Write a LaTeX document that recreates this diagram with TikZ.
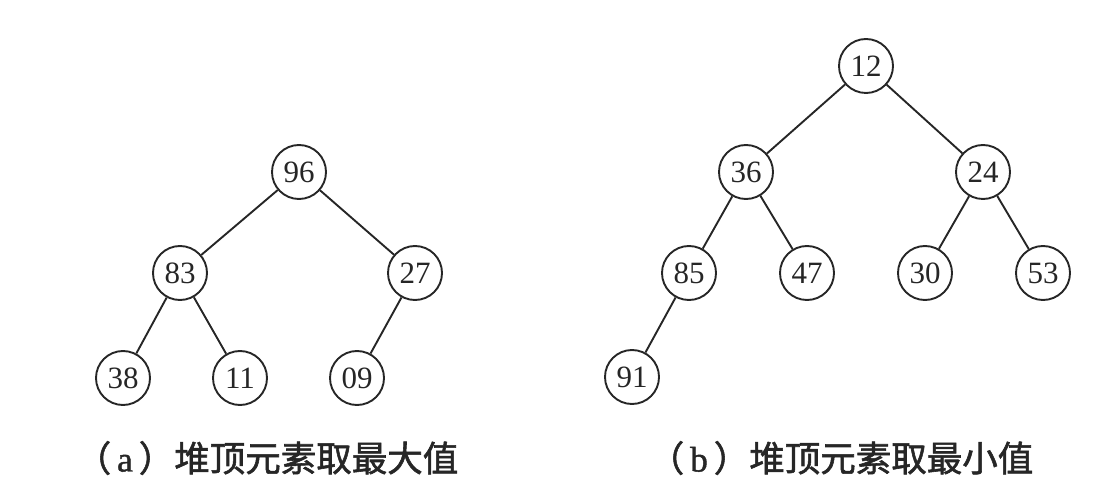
\documentclass[tikz,border=0pt]{standalone}
\usepackage{fontspec}
\setmainfont{Liberation Serif}
\newfontfamily\cjk[FakeBold=1.6]{Noto Sans CJK SC}
\newfontfamily\latinlabel[FakeBold=1.2]{Liberation Serif}
\begin{document}
\begin{tikzpicture}[x=1pt,y=-1pt,
  ink/.style={draw=black!85, line width=1.9pt},
  hnode/.style={circle, ink, minimum size=54pt, inner sep=0pt,
    font=\fontsize{31}{34}\selectfont, text=black!85},
  hedge/.style={ink},
  caption/.style={font=\cjk\fontsize{35.5}{40}\selectfont, text=black!85, anchor=center}]
\useasboundingbox (0,0) rectangle (1118,502);

% (a) max-heap
\node[hnode] (a96) at (299,172) {96};
\node[hnode] (a83) at (180,273) {83};
\node[hnode] (a27) at (415,273) {27};
\node[hnode] (a38) at (123,378) {38};
\node[hnode] (a11) at (240,378) {11};
\node[hnode] (a09) at (357,378) {09};
\draw[hedge] (a96) -- (a83);
\draw[hedge] (a96) -- (a27);
\draw[hedge] (a83) -- (a38);
\draw[hedge] (a83) -- (a11);
\draw[hedge] (a27) -- (a09);

% (b) min-heap
\node[hnode] (b12) at (866,66) {12};
\node[hnode] (b36) at (746,172) {36};
\node[hnode] (b24) at (983,172) {24};
\node[hnode] (b85) at (689,273) {85};
\node[hnode] (b47) at (807,273) {47};
\node[hnode] (b30) at (925,273) {30};
\node[hnode] (b53) at (1043,273) {53};
\node[hnode] (b91) at (632,377) {91};
\draw[hedge] (b12) -- (b36);
\draw[hedge] (b12) -- (b24);
\draw[hedge] (b36) -- (b85);
\draw[hedge] (b36) -- (b47);
\draw[hedge] (b24) -- (b30);
\draw[hedge] (b24) -- (b53);
\draw[hedge] (b85) -- (b91);

% captions
\node[caption] (capa) at (267,458) {（{\latinlabel\,a\,}）堆顶元素取最大值};
\node[caption] (capb) at (841,458) {（{\latinlabel\,b\,}）堆顶元素取最小值};
\end{tikzpicture}
\end{document}
